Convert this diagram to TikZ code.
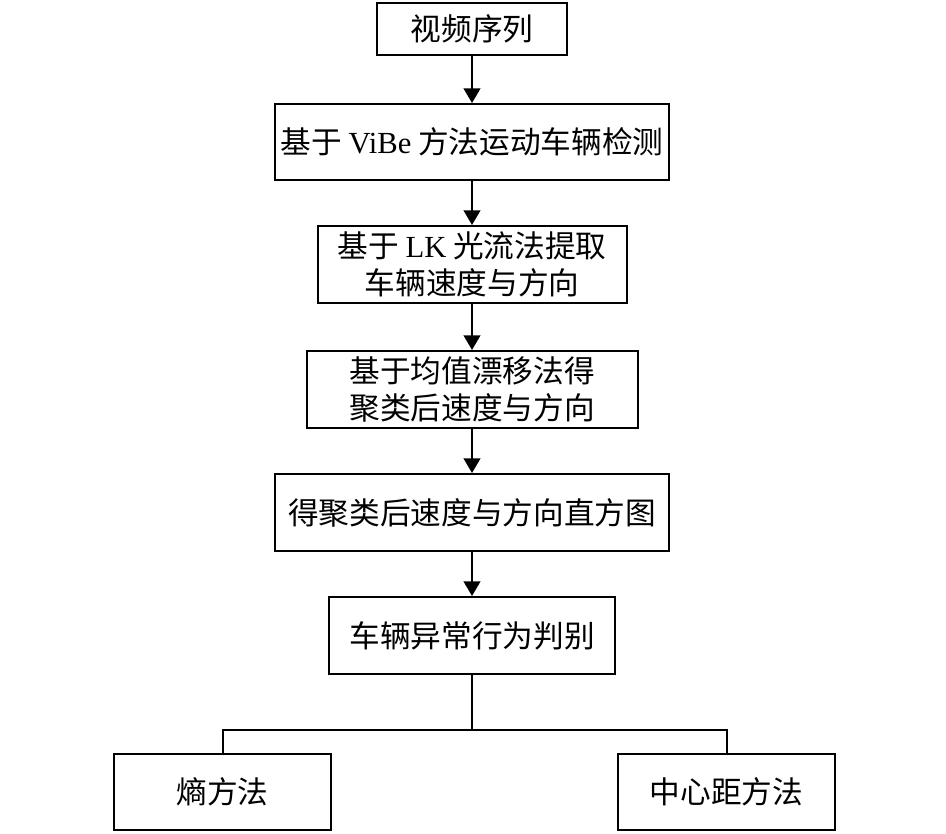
\documentclass[tikz,border=0pt]{standalone}
\usepackage{fontspec}
\setmainfont{Noto Sans CJK SC}
\newfontfamily\lat{Liberation Serif}
\usetikzlibrary{arrows.meta}
\begin{document}
\begin{tikzpicture}[x=0.75pt,y=-0.75pt,
  box/.style={draw,line width=1.5pt,inner sep=0pt,align=center,font=\fontsize{23}{27.75}\selectfont},
  arr/.style={line width=1.6pt,-{Triangle[width=12.5pt,length=11pt]}},
  ln/.style={line width=1.5pt}]
\useasboundingbox (0,0) rectangle (946,833);
\node[box,minimum width=142.5pt,minimum height=39pt] (a) at (472,29) {视频序列};
\node[box,minimum width=295.5pt,minimum height=57pt] (b) at (472,142) {基于 {\lat ViBe} 方法运动车辆检测};
\node[box,minimum width=231.75pt,minimum height=57.75pt] (c) at (472,264.5) {基于 {\lat LK} 光流法提取\\车辆速度与方向};
\node[box,minimum width=248.25pt,minimum height=57.75pt] (d) at (472,389.5) {基于均值漂移法得\\聚类后速度与方向};
\node[box,minimum width=295.5pt,minimum height=57.75pt] (e) at (472,512.5) {得聚类后速度与方向直方图};
\node[box,minimum width=214.5pt,minimum height=57.75pt] (f) at (472,635.5) {车辆异常行为判别};
\node[box,minimum width=162.75pt,minimum height=57pt] (g) at (222.5,792) {熵方法};
\node[box,minimum width=162.75pt,minimum height=57pt] (h) at (726.5,792) {中心距方法};
\coordinate (j) at (472,730);
\draw[arr] (a) -- (b);
\draw[arr] (b) -- (c);
\draw[arr] (c) -- (d);
\draw[arr] (d) -- (e);
\draw[arr] (e) -- (f);
\draw[ln] (f.south) -- (j);
\draw[ln] (g.north) |- (j) -| (h.north);
\end{tikzpicture}
\end{document}
